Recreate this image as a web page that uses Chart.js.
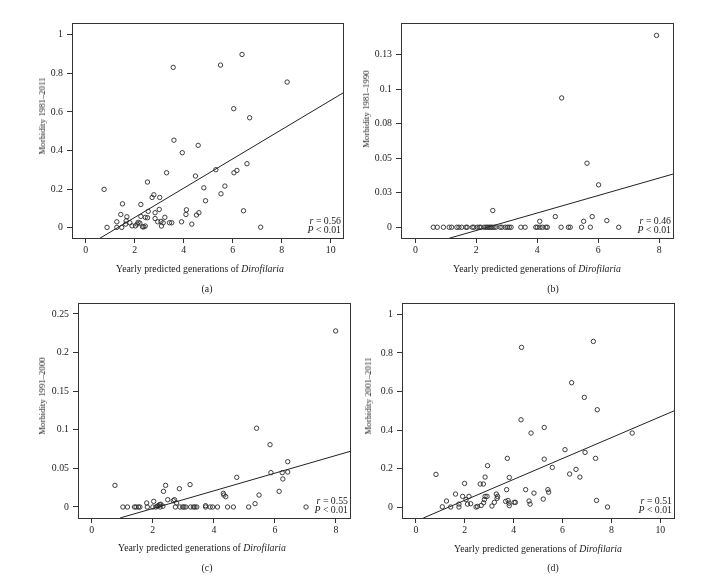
<!DOCTYPE html>
<html><head><meta charset="utf-8">
<script src="https://cdn.jsdelivr.net/npm/chart.js@4.4.1/dist/chart.umd.min.js"></script>
<style>
html,body{margin:0;padding:0;background:#fff;}
#wrap{position:relative;width:725px;height:585px;overflow:hidden;font-family:"Liberation Serif","DejaVu Serif",serif;color:#222;}
canvas{position:absolute;}
.xt{position:absolute;font-size:9.8px;white-space:nowrap;transform:translate(-50%,-50%);}
.yt{position:absolute;font-size:8.8px;white-space:nowrap;transform:translate(-50%,-50%) rotate(-90deg);}
.cap{position:absolute;font-size:9.8px;transform:translate(-50%,-50%);}
</style></head><body><div id="wrap"></div>
<script>
// ---------- data ----------
const aX = [0.75,0.87,1.27,1.27,1.43,1.50,1.47,1.68,1.65,1.63,1.80,1.89,2.03,2.10,2.14,2.21,2.25,2.25,2.32,2.37,2.43,2.43,2.52,2.55,2.52,2.71,2.78,2.83,2.83,2.94,3.02,3.00,3.07,3.09,3.16,3.23,3.30,3.42,3.51,3.57,3.60,3.94,3.91,4.09,4.11,4.33,4.48,4.52,4.59,4.62,4.82,4.89,5.31,5.50,5.52,5.68,6.04,6.05,6.17,6.38,6.44,6.58,6.69,7.14,8.22];
const aY = [0.199,0.002,0.031,0.002,0.069,0.124,0.002,0.057,0.036,0.019,0.026,0.010,0.010,0.019,0.028,0.024,0.121,0.059,0.005,0.005,0.054,0.009,0.237,0.085,0.052,0.157,0.171,0.078,0.048,0.031,0.157,0.095,0.033,0.009,0.026,0.054,0.285,0.026,0.026,0.831,0.454,0.389,0.031,0.069,0.093,0.019,0.268,0.066,0.427,0.078,0.207,0.140,0.301,0.843,0.176,0.216,0.617,0.285,0.297,0.898,0.088,0.332,0.570,0.003,0.755];
const bX = [0.59,0.72,0.92,1.11,1.19,1.36,1.43,1.52,1.66,1.70,1.87,1.92,2.03,2.10,2.15,2.26,2.32,2.37,2.42,2.47,2.52,2.58,2.64,2.78,2.84,2.95,3.02,3.08,3.14,3.46,3.60,3.95,4.00,4.09,4.17,4.28,4.33,4.78,5.02,5.08,5.45,5.74,6.67,2.54,4.08,4.59,4.80,5.52,5.63,5.80,6.01,6.28,7.91];
const bY = [0,0,0,0,0,0,0,0,0,0,0,0,0,0,0,0,0,0,0,0,0,0,0,0,0,0,0,0,0,0,0,0,0,0,0,0,0,0,0,0,0,0,0,0.0121,0.0043,0.0077,0.0937,0.0043,0.0464,0.0077,0.0307,0.0048,0.139];
const cX = [0.76,1.02,1.17,1.40,1.45,1.53,1.58,1.80,1.82,2.00,2.03,2.10,2.15,2.18,2.22,2.24,2.26,2.33,2.35,2.42,2.49,2.67,2.71,2.74,2.78,2.87,2.89,2.98,3.02,3.08,3.22,3.24,3.33,3.38,3.44,3.73,3.73,3.88,3.96,4.12,4.31,4.33,4.39,4.45,4.64,4.75,5.14,5.35,5.40,5.48,5.84,5.87,6.14,6.24,6.26,6.42,6.42,7.02,7.99];
const cY = [0.028,0,0,0,0,0,0,0.0052,0,0,0.0073,0,0.001,0.0017,0.003,0,0.0035,0.001,0.0203,0.028,0.0095,0.0082,0.0095,0,0.0052,0.0237,0,0,0,0,0.029,0,0,0,0,0.0017,0,0,0,0,0.0177,0.0155,0.0134,0,0,0.0384,0,0.0043,0.102,0.0155,0.0807,0.0445,0.0203,0.0445,0.0363,0.0587,0.0453,0,0.228];
const dX = [0.82,1.08,1.25,1.42,1.62,1.76,1.76,1.91,1.99,2.05,2.11,2.17,2.24,2.46,2.52,2.63,2.67,2.76,2.77,2.80,2.83,2.83,2.91,2.93,3.11,3.21,3.29,3.32,3.34,3.67,3.71,3.74,3.77,3.81,3.82,3.82,4.02,4.07,4.30,4.32,4.49,4.63,4.67,4.71,4.83,5.21,5.25,5.25,5.40,5.43,5.58,6.10,6.29,6.37,6.55,6.71,6.89,6.92,7.26,7.35,7.39,7.42,7.84,8.85];
const dY = [0.171,0.003,0.033,0.002,0.069,0.017,0.002,0.057,0.124,0.040,0.017,0.057,0.019,0.002,0.005,0.121,0.010,0.121,0.024,0.040,0.057,0.157,0.057,0.216,0.007,0.026,0.069,0.047,0.057,0.031,0.092,0.254,0.036,0.022,0.155,0.009,0.026,0.026,0.454,0.829,0.092,0.033,0.017,0.385,0.074,0.043,0.414,0.250,0.092,0.079,0.207,0.299,0.173,0.646,0.197,0.157,0.570,0.285,0.860,0.254,0.036,0.506,0.002,0.385];

const aFitX = [0.57,10.52], aFitY = [-0.055,0.70];
const bFitX = [1.11,8.46],  bFitY = [-0.008,0.0386];
const cFitX = [0.93,8.46],  cFitY = [-0.0142,0.072];
const dFitX = [0.30,10.56], dFitY = [-0.055,0.50];

const xTicks10 = [0,2,4,6,8,10], xTicks8 = [0,2,4,6,8];
const yTicksA = [0,0.2,0.4,0.6,0.8,1], yLabelsA = ['0','0.2','0.4','0.6','0.8','1'];
const yTicksB = [0,0.025,0.05,0.075,0.1,0.125], yLabelsB = ['0','0.03','0.05','0.08','0.1','0.13'];
const yTicksC = [0,0.05,0.1,0.15,0.2,0.25], yLabelsC = ['0','0.05','0.1','0.15','0.2','0.25'];

const yTitles = ['Morbidity 1981–2011','Morbidity 1981–1990','Morbidity 1991–2000','Morbidity 2001–2011'];
const rTexts = ['0.56','0.46','0.55','0.51'];
const pText = '0.01';
const captions = ['(a)','(b)','(c)','(d)'];
const xTitleMain = 'Yearly predicted generations of ', xTitleItalic = 'Dirofilaria';

// ---------- layout ----------
const panels = [
  {x:aX,y:aY,fx:aFitX,fy:aFitY,xt:xTicks10,yt:yTicksA,yl:yLabelsA,frame:[72,23,343,238],xr:[-0.56,10.5],yr:[-0.053,1.061],yTitle:[42,116],xTitle:[200,268],cap:[207,288]},
  {x:bX,y:bY,fx:bFitX,fy:bFitY,xt:xTicks8,yt:yTicksB,yl:yLabelsB,frame:[401,23,673,238],xr:[-0.47,8.45],yr:[-0.0078,0.148],yTitle:[366,109],xTitle:[537,268],cap:[553,288]},
  {x:cX,y:cY,fx:cFitX,fy:cFitY,xt:xTicks8,yt:yTicksC,yl:yLabelsC,frame:[78,303,350,518],xr:[-0.45,8.46],yr:[-0.01425,0.2642],yTitle:[42,396],xTitle:[202,547],cap:[207,567]},
  {x:dX,y:dY,fx:dFitX,fy:dFitY,xt:xTicks10,yt:yTicksA,yl:yLabelsA,frame:[402,303,674,518],xr:[-0.57,10.56],yr:[-0.055,1.059],yTitle:[368,396],xTitle:[538,548],cap:[553,567]}
];

const INK = '#333';
const FONT = '"Liberation Serif","DejaVu Serif",serif';
const wrap = document.getElementById('wrap');

const framePlugin = {
  id:'frame',
  afterDraw(chart, args, opts){
    const ctx = chart.ctx, a = chart.chartArea;
    ctx.save();
    ctx.strokeStyle = INK; ctx.lineWidth = 1;
    ctx.strokeRect(Math.round(a.left)+0.5, Math.round(a.top)+0.5, Math.round(a.right-a.left), Math.round(a.bottom-a.top));
    ctx.fillStyle = '#1a1a1a';
    ctx.textBaseline = 'alphabetic';
    const right = a.right - 2;
    function line(italic, rest, base){
      ctx.font = '9.8px ' + FONT;
      const w2 = ctx.measureText(rest).width;
      ctx.font = 'italic 9.8px ' + FONT;
      const w1 = ctx.measureText(italic).width;
      ctx.fillText(italic, right - w2 - w1, base);
      ctx.font = '9.8px ' + FONT;
      ctx.fillText(rest, right - w2, base);
    }
    line('r', ' = ' + opts.r, a.bottom - 14);
    line('P', ' < ' + pText, a.bottom - 5);
    ctx.restore();
  }
};

panels.forEach((p, i) => {
  const [L,T,R,B] = p.frame;
  const padL = 45, padT = 10, padR = 12, padB = 25;
  const cv = document.createElement('canvas');
  const W = (R-L)+padL+padR, H = (B-T)+padT+padB;
  cv.width = W; cv.height = H;
  cv.style.left = (L-padL)+'px'; cv.style.top = (T-padT)+'px';
  cv.style.width = W+'px'; cv.style.height = H+'px';
  wrap.appendChild(cv);

  const pts = p.x.map((v,k)=>({x:v, y:p.y[k]}));
  const fit = p.fx.map((v,k)=>({x:v, y:p.fy[k]}));

  new Chart(cv, {
    type:'scatter',
    data:{datasets:[
      {type:'scatter',data:pts,pointStyle:'circle',pointRadius:2.2,pointBorderWidth:0.9,borderColor:'#2a2a2a',backgroundColor:'rgba(0,0,0,0)',pointHoverRadius:2.2},
      {type:'line',data:fit,borderColor:'#222',borderWidth:1,pointRadius:0,fill:false,tension:0}
    ]},
    options:{
      responsive:false, animation:false, devicePixelRatio:1,
      layout:{padding:{left:0,top:padT,right:padR,bottom:0}},
      plugins:{legend:{display:false},tooltip:{enabled:false},frame:{r:rTexts[i]}},
      scales:{
        x:{type:'linear',min:p.xr[0],max:p.xr[1],
           afterBuildTicks:s=>{s.ticks=p.xt.map(v=>({value:v}));},
           afterFit:s=>{s.height=padB;},
           grid:{display:true,drawOnChartArea:false,drawTicks:true,tickLength:5,color:INK,lineWidth:1},
           border:{display:true,color:INK},
           ticks:{color:'#222',font:{family:FONT,size:9.8},padding:2,maxRotation:0,autoSkip:false,callback:v=>String(v)}},
        y:{type:'linear',min:p.yr[0],max:p.yr[1],
           afterBuildTicks:s=>{s.ticks=p.yt.map(v=>({value:v}));},
           afterFit:s=>{s.width=padL;},
           grid:{display:true,drawOnChartArea:false,drawTicks:true,tickLength:5,color:INK,lineWidth:1},
           border:{display:true,color:INK},
           ticks:{color:'#222',font:{family:FONT,size:9.8},padding:4,autoSkip:false,
                  callback:(v)=>{const k=p.yt.findIndex(t=>Math.abs(t-v)<1e-9);return k>=0?p.yl[k]:'';}}}
      }
    },
    plugins:[framePlugin]
  });

  const yt = document.createElement('div');
  yt.className='yt'; yt.textContent = yTitles[i];
  yt.style.left = p.yTitle[0]+'px'; yt.style.top = p.yTitle[1]+'px';
  wrap.appendChild(yt);

  const xt = document.createElement('div');
  xt.className='xt';
  xt.appendChild(document.createTextNode(xTitleMain));
  const it = document.createElement('i'); it.textContent = xTitleItalic; xt.appendChild(it);
  xt.style.left = p.xTitle[0]+'px'; xt.style.top = p.xTitle[1]+'px';
  wrap.appendChild(xt);

  const cp = document.createElement('div');
  cp.className='cap'; cp.textContent = captions[i];
  cp.style.left = p.cap[0]+'px'; cp.style.top = p.cap[1]+'px';
  wrap.appendChild(cp);
});
</script></body></html>
